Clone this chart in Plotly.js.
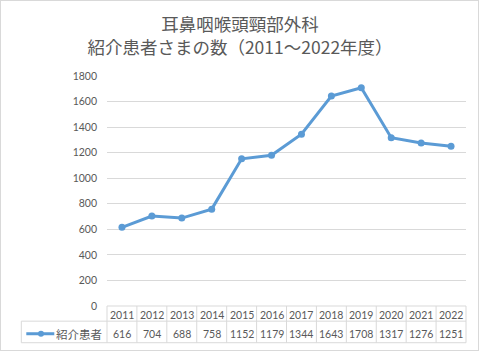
<!DOCTYPE html>
<html>
<head>
<meta charset="utf-8">
<script src="https://cdn.plot.ly/plotly-3.0.1.min.js"></script>
<style>
html,body{margin:0;padding:0;background:#fff;}
#wrap{position:relative;width:480px;height:352px;}
#chart{position:absolute;left:0;top:0;width:480px;height:352px;}
#frame{position:absolute;left:0;top:0;width:479px;height:351px;box-sizing:border-box;border:1px solid #d9d9d9;pointer-events:none;}
</style>
</head>
<body>
<div id="wrap"><div id="chart"></div><div id="frame"></div></div>
<script>
// ---- data ----
const years = ['2011','2012','2013','2014','2015','2016','2017','2018','2019','2020','2021','2022'];
const patients = [616, 704, 688, 758, 1152, 1179, 1344, 1643, 1708, 1317, 1276, 1251];
const seriesName = '紹介患者';
const titleLines = ['耳鼻咽喉頭頸部外科', '紹介患者さまの数（2011～2022年度）'];
const yMax = 1800;
const yStep = 200;

// ---- layout geometry (pixels) ----
const W = 480, H = 352;
const L = 106.7, R = 465.7, T = 76, B = 306.5;
const plotW = R - L, plotH = B - T;
const px2paperX = px => (px - L) / plotW;
const px2paperY = py => (B - py) / plotH;

const rowYearsMid = 315.3, rowValsMid = 334.8, legendLineY = 334.3;
const rowTop = 306.5, rowMid = 321.7, rowBot = 343.3, legendLeft = 21;

const grey = '#595959';
const gridC = '#d9d9d9';
const lineC = '#5b9bd5';
const numFont = 'Lato, "Noto Sans CJK JP", sans-serif';
const jpFont = '"Noto Sans CJK JP", Lato, sans-serif';

const trace = {
  type: 'scatter', mode: 'lines+markers', name: seriesName,
  x: years, y: patients,
  line: {color: lineC, width: 3},
  marker: {color: lineC, size: 7},
  cliponaxis: false,
  showlegend: false
};

const n = years.length;
const annotations = [];
years.forEach((yr, i) => {
  const cx = (i + 0.5) / n;
  annotations.push({x: cx, xref: 'paper', y: px2paperY(rowYearsMid), yref: 'paper',
    text: yr, showarrow: false, xanchor: 'center', yanchor: 'middle',
    font: {family: numFont, size: 10.5, color: grey}});
  annotations.push({x: cx, xref: 'paper', y: px2paperY(rowValsMid), yref: 'paper',
    text: String(patients[i]), showarrow: false, xanchor: 'center', yanchor: 'middle',
    font: {family: numFont, size: 10.5, color: grey}});
});
// legend key text (table row header)
annotations.push({x: px2paperX(55), xref: 'paper', y: px2paperY(rowValsMid), yref: 'paper',
  text: seriesName, showarrow: false, xanchor: 'left', yanchor: 'middle',
  xshift: -1, font: {family: jpFont, size: 11.5, color: grey}});

const shapes = [];
const hl = (x0, x1, py) => shapes.push({type: 'line', xref: 'paper', yref: 'paper',
  x0: x0, x1: x1, y0: px2paperY(py), y1: px2paperY(py), line: {color: gridC, width: 1}});
const vl = (x, py0, py1) => shapes.push({type: 'line', xref: 'paper', yref: 'paper',
  x0: x, x1: x, y0: px2paperY(py0), y1: px2paperY(py1), line: {color: gridC, width: 1}});
hl(0, 1, rowTop);
hl(px2paperX(legendLeft), 1, rowMid);
hl(px2paperX(legendLeft), 1, rowBot);
vl(px2paperX(legendLeft), rowMid, rowBot);
for (let i = 0; i <= n; i++) vl(i / n, rowTop, rowBot);
// legend key symbol: line + marker
shapes.push({type: 'line', xref: 'paper', yref: 'paper',
  x0: px2paperX(26), x1: px2paperX(54), y0: px2paperY(legendLineY), y1: px2paperY(legendLineY),
  line: {color: lineC, width: 3}});
shapes.push({type: 'circle', xref: 'paper', yref: 'paper',
  x0: px2paperX(40.7 - 3), x1: px2paperX(40.7 + 3),
  y0: px2paperY(legendLineY + 3), y1: px2paperY(legendLineY - 3),
  fillcolor: lineC, line: {color: lineC, width: 0}});

const layout = {
  width: W, height: H,
  margin: {l: L, r: W - R, t: T, b: H - B, pad: 0, autoexpand: false},
  paper_bgcolor: 'rgba(0,0,0,0)', plot_bgcolor: 'rgba(0,0,0,0)',
  title: {text: titleLines.join('<br>'), x: 0.5, xanchor: 'center', xref: 'container',
    y: 1 - 31 / H, yanchor: 'middle', yref: 'container', automargin: false,
    font: {family: jpFont, size: 17.5, color: grey}},
  xaxis: {type: 'category', range: [-0.5, n - 0.5], showticklabels: false,
    showgrid: false, zeroline: false, showline: false, ticks: '', fixedrange: true, automargin: false},
  yaxis: {range: [0, yMax], dtick: yStep, tick0: 0, showgrid: true, gridcolor: gridC, gridwidth: 1,
    zeroline: false, showline: false, ticks: '', ticklabelstandoff: 9, automargin: false,
    tickfont: {family: numFont, size: 10.5, color: grey}, fixedrange: true},
  showlegend: false,
  annotations: annotations,
  shapes: shapes
};

Plotly.newPlot('chart', [trace], layout, {displayModeBar: false, staticPlot: true});
</script>
</body>
</html>
